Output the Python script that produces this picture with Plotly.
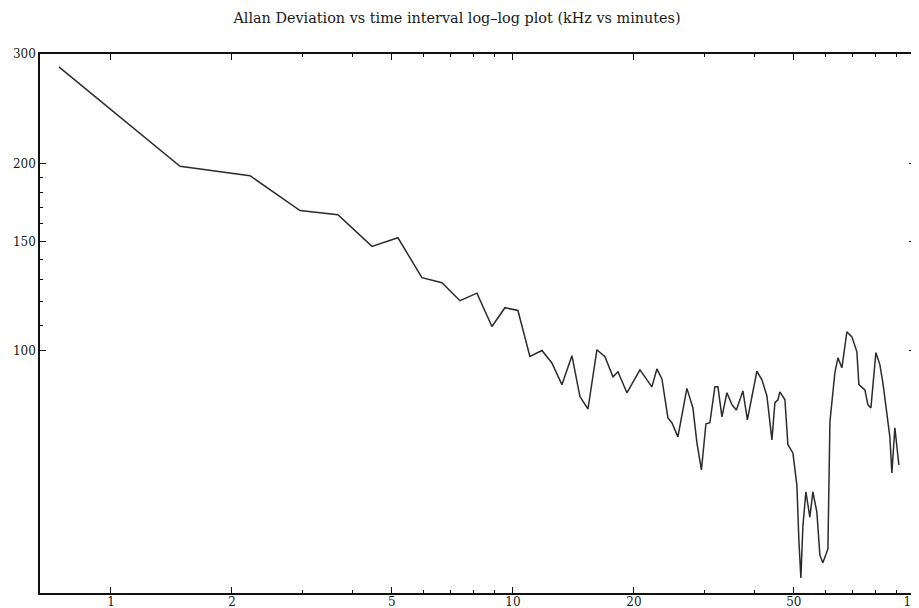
import plotly.graph_objects as go

# Time interval (minutes) and Allan deviation (kHz)
x_minutes = [0.742, 1.485, 2.217, 2.953, 3.669, 4.460, 5.175, 5.937, 6.658, 7.383,
             8.137, 8.866, 9.552, 10.29, 11.02, 11.81, 12.50, 13.24, 14.02, 14.68,
             15.37, 16.18, 16.94, 17.74, 18.25, 19.21, 20.70, 22.17, 22.81, 23.48,
             24.30, 24.86, 25.73, 27.09, 28.04, 28.69, 29.44, 30.21, 30.90, 31.80,
             32.36, 33.11, 34.07, 35.06, 35.97, 37.34, 38.31, 40.45, 41.64, 42.84,
             44.09, 44.85, 45.63, 46.15, 47.50, 48.32, 49.72, 50.87, 51.45, 52.04,
             52.64, 53.56, 54.79, 55.75, 57.04, 58.03, 59.03, 60.76, 61.47, 63.24,
             64.35, 65.83, 67.74, 69.72, 71.73, 72.56, 75.10, 76.40, 77.72, 79.98,
             81.83, 83.25, 86.65, 87.65, 89.17, 91.24]
allan_khz = [286.3, 198.1, 191.3, 168.1, 165.6, 147.2, 152.0, 131.1, 128.7, 120.4,
             123.8, 109.4, 117.3, 116.1, 97.9, 100.1, 95.6, 88.2, 98.2, 84.4,
             80.6, 100.4, 97.8, 90.8, 92.5, 85.6, 93.2, 87.5, 93.5, 90.1,
             78.0, 76.6, 72.7, 87.0, 80.9, 71.1, 64.3, 76.3, 76.6, 87.5,
             87.5, 78.3, 85.6, 81.9, 80.3, 86.2, 77.4, 92.7, 89.8, 84.6,
             71.9, 82.5, 83.4, 85.9, 83.4, 70.6, 68.5, 60.8, 49.6, 43.1,
             52.1, 59.3, 54.0, 59.3, 55.0, 46.9, 45.6, 48.0, 76.9, 92.2,
             97.4, 93.9, 107.3, 105.3, 99.6, 88.2, 86.5, 81.9, 80.9, 99.3,
             95.0, 88.8, 72.7, 63.6, 75.2, 65.5]

x_major = [1, 2, 5, 10, 20, 50, 100]
x_major_text = ["1", "2", "5", "10", "20", "50", "100"]
x_minor = [3, 4, 6, 7, 8, 9, 30, 40, 60, 70, 80, 90]
y_major = [100, 150, 200, 300]
y_major_text = ["100", "150", "200", "300"]
y_minor = [110, 120, 130, 140, 160, 170, 180, 190]

title_text = "Allan Deviation vs time interval log\u2013log plot (kHz vs minutes)"

serif = "DejaVu Serif, Liberation Serif, serif"

# the page body keeps the browser's default 8px margin, so the figure is
# sized to fill the remaining 911x600 of the 919x608 window
W, H = 911, 600

fig = go.Figure()
fig.add_trace(go.Scatter(
    x=x_minutes, y=allan_khz, mode="lines",
    line=dict(color="#2b2b2b", width=1.5),
    showlegend=False, hoverinfo="skip",
))

axis_common = dict(
    type="log", showgrid=False, zeroline=False, automargin=False,
    showline=True, linecolor="#111111", linewidth=1.6, mirror="ticks",
    ticks="inside", ticklen=6, tickwidth=1.2, tickcolor="#111111",
    ticklabeloverflow="allow",
    tickfont=dict(family=serif, size=12, color="#1a1a1a"),
)

fig.update_layout(
    width=W, height=H,
    margin=dict(l=32, r=4, t=46, b=15),
    paper_bgcolor="white", plot_bgcolor="white",
    title=dict(text=title_text, x=449 / W, xref="container", xanchor="center",
               y=1 - 10 / H, yref="container", yanchor="middle",
               font=dict(family=serif, size=14.4, color="#1a1a1a")),
    xaxis=dict(range=[-0.1766, 2.0003], tickvals=x_major, ticktext=x_major_text,
               ticklabelstandoff=-3,
               minor=dict(tickvals=x_minor, ticks="inside", ticklen=3,
                          tickwidth=1, tickcolor="#111111", showgrid=False),
               **axis_common),
    yaxis=dict(range=[1.6103, 2.4775], tickvals=y_major, ticktext=y_major_text,
               minor=dict(tickvals=y_minor, ticks="inside", ticklen=3,
                          tickwidth=1, tickcolor="#111111", showgrid=False),
               **axis_common),
)

fig.write_html("out.html")
